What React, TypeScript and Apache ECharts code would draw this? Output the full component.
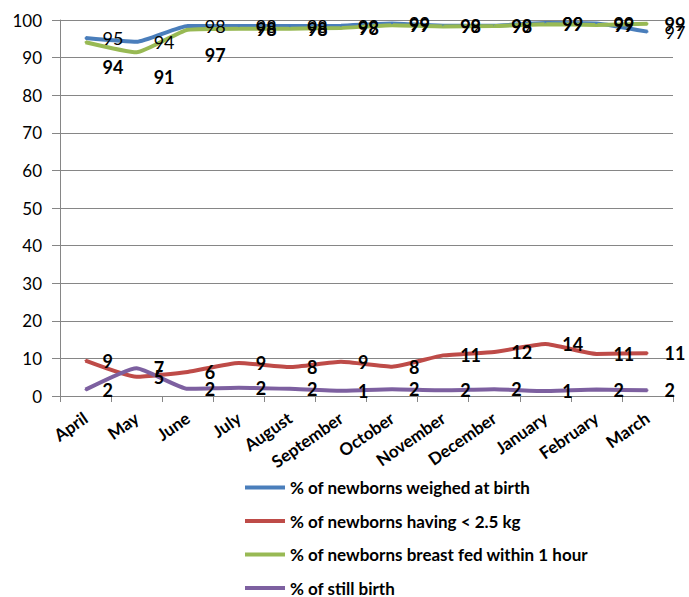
import React, { useEffect, useRef } from "react";
import * as echarts from "echarts";

const categories = ["April", "May", "June", "July", "August", "September", "October", "November", "December", "January", "February", "March"];
const weighed = [95.2, 94.2, 98.4, 98.4, 98.4, 98.5, 99.1, 98.5, 98.5, 99.2, 99.1, 96.9];
const lowWeight = [9.4, 5.1, 6.4, 8.8, 7.7, 9.1, 7.8, 10.8, 11.7, 13.8, 11.2, 11.4];
const breastFed = [94.1, 91.4, 97.4, 97.7, 97.7, 97.9, 98.6, 98.3, 98.4, 98.9, 98.7, 99.0];
const stillBirth = [1.7, 7.4, 1.9, 2.2, 1.9, 1.4, 1.8, 1.5, 1.8, 1.3, 1.7, 1.5];
const seriesNames = [
  "% of newborns weighed at birth",
  "% of newborns having < 2.5 kg",
  "% of newborns breast fed within 1 hour",
  "% of still birth",
];
const yTicks = { min: 0, max: 100, interval: 10 };

const FONT = "Lato, 'Liberation Sans', sans-serif";
const colors = ["#4A7EBB", "#BE4B48", "#98B954", "#7D60A0"];

export default function App() {
  const ref = useRef<HTMLDivElement>(null);
  useEffect(() => {
    if (!ref.current) return;
    const chart = echarts.init(ref.current, undefined, { renderer: "svg" });
    const labelBase = (bold: boolean) => ({
      show: true,
      position: "right" as const,
      distance: 16,
      color: "#000",
      fontFamily: FONT,
      fontSize: 18,
      fontWeight: bold ? ("bold" as const) : ("normal" as const),
      formatter: (p: any) => String(Math.round(p.value)),
    });
    const shiftedGreen = new Set([0, 1, 2]);
    const mk = (name: string, data: number[], color: string, bold: boolean, shift?: Set<number>) => ({
      name,
      type: "line" as const,
      data,
      smooth: 0.15,
      showSymbol: true,
      symbol: "circle",
      symbolSize: 2,
      lineStyle: { width: 4, color },
      itemStyle: { color },
      label: labelBase(bold),
      labelLayout: (p: any) =>
        shift && shift.has(p.dataIndex) ? { dy: 25, hideOverlap: false } : { hideOverlap: false },
      z: 2,
    });
    const legends = seriesNames.map((name, i) => ({
      orient: "vertical",
      left: 245,
      top: 479 + i * 33.5,
      padding: 0,
      itemWidth: 40,
      itemHeight: 4,
      icon: "rect",
      textStyle: { fontFamily: FONT, fontSize: 17, fontWeight: "bold", color: "#000" },
      data: [name],
    }));
    chart.setOption({
      animation: false,
      color: colors,
      grid: { left: 60, right: 16, top: 20, bottom: 201, containLabel: false },
      legend: legends,
      xAxis: {
        type: "category",
        data: categories,
        boundaryGap: true,
        axisLine: { lineStyle: { color: "#868686", width: 1 } },
        axisTick: { show: true, length: 6, interval: 0, lineStyle: { color: "#868686" } },
        axisLabel: {
          interval: 0,
          rotate: 35,
          margin: 20,
          color: "#000",
          fontFamily: FONT,
          fontSize: 17,
          fontWeight: "bold",
        },
      },
      yAxis: {
        type: "value",
        min: yTicks.min,
        max: yTicks.max,
        interval: yTicks.interval,
        axisLine: { show: true, lineStyle: { color: "#868686", width: 1 } },
        axisTick: { show: true, length: 8, lineStyle: { color: "#868686" } },
        splitLine: { show: true, lineStyle: { color: "#868686", width: 1 } },
        axisLabel: { color: "#000", fontFamily: FONT, fontSize: 17, margin: 18 },
      },
      series: [
        mk(seriesNames[0], weighed, colors[0], false),
        mk(seriesNames[1], lowWeight, colors[1], true),
        mk(seriesNames[2], breastFed, colors[2], true, shiftedGreen),
        mk(seriesNames[3], stillBirth, colors[3], true),
      ],
    });
    return () => chart.dispose();
  }, []);
  return (
    <div
      ref={ref}
      style={{ position: "fixed", left: 0, top: 0, width: 689, height: 597, background: "#fff" }}
    />
  );
}
